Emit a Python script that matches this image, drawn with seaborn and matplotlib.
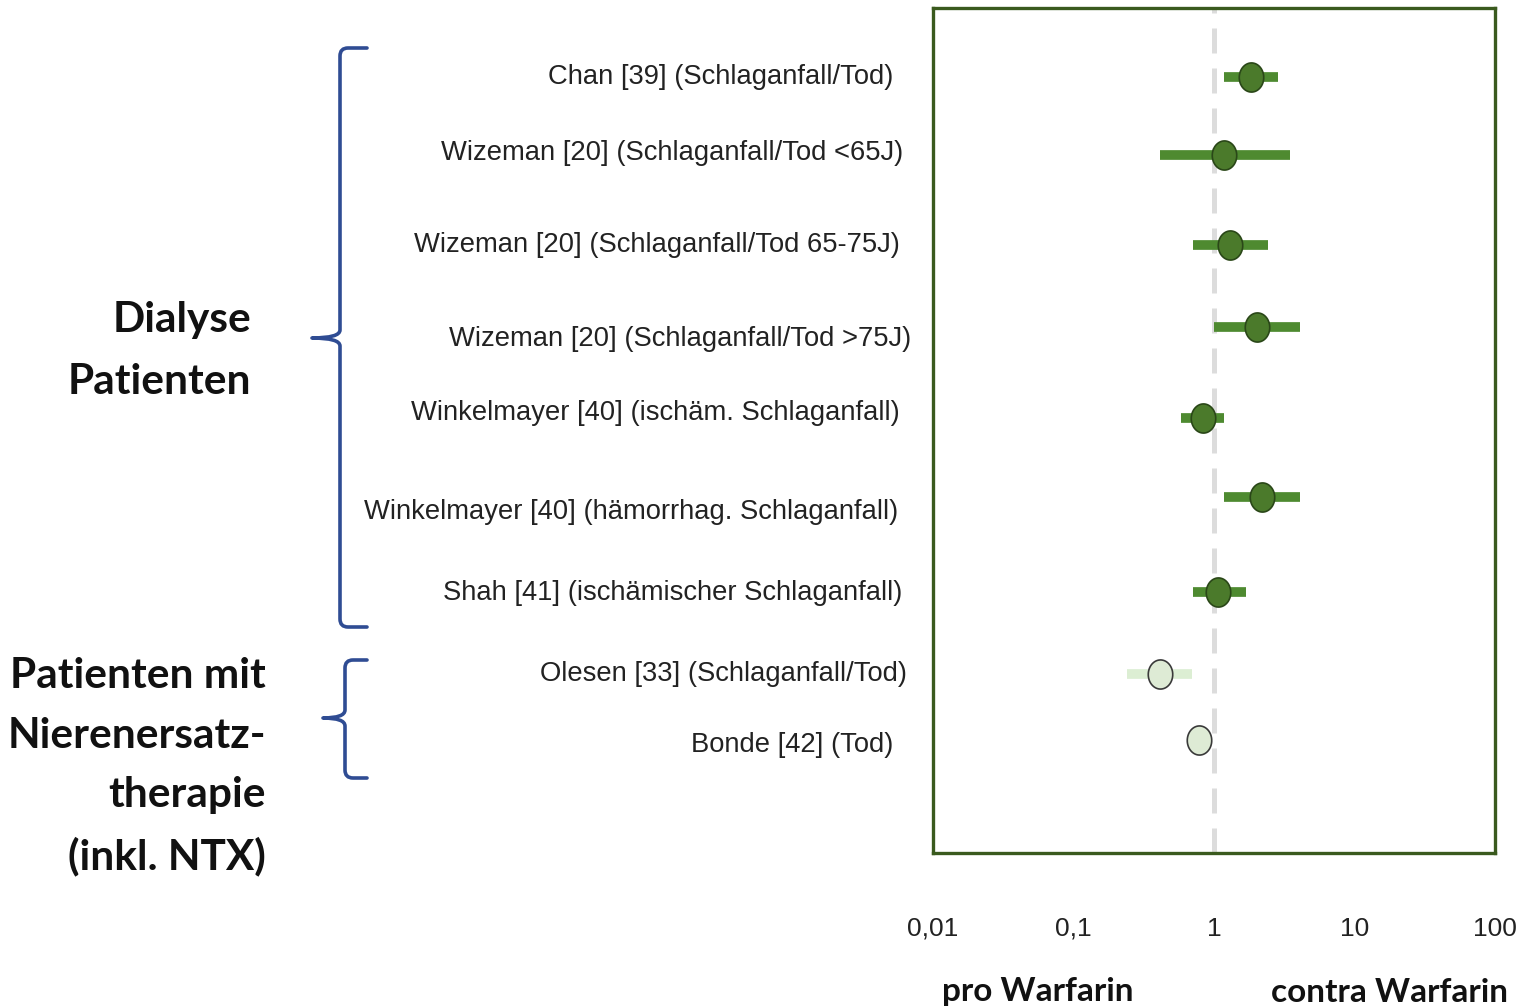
import numpy as np
import pandas as pd
import matplotlib
matplotlib.use("Agg")
import matplotlib.pyplot as plt
import matplotlib.transforms as mtransforms
from matplotlib.path import Path
from matplotlib.patches import PathPatch
from matplotlib import font_manager
import seaborn as sns

# ---------------- data ----------------
studies = [
    "Chan [39] (Schlaganfall/Tod)",
    "Wizeman [20] (Schlaganfall/Tod <65J)",
    "Wizeman [20] (Schlaganfall/Tod 65-75J)",
    "Wizeman [20] (Schlaganfall/Tod >75J)",
    "Winkelmayer [40] (ischäm. Schlaganfall)",
    "Winkelmayer [40] (hämorrhag. Schlaganfall)",
    "Shah [41] (ischämischer Schlaganfall)",
    "Olesen [33] (Schlaganfall/Tod)",
    "Bonde [42] (Tod)",
]
estimate = [1.83, 1.18, 1.30, 2.02, 0.84, 2.20, 1.07, 0.41, 0.78]
ci_low = [1.18, 0.41, 0.71, 1.00, 0.58, 1.18, 0.71, 0.24, np.nan]
ci_high = [2.86, 3.47, 2.42, 4.09, 1.18, 4.09, 1.69, 0.70, np.nan]
group = ["Dialyse"] * 7 + ["NET"] * 2
xticks = [0.01, 0.1, 1, 10, 100]
xticklabels = ["0,01", "0,1", "1", "10", "100"]

# layout (row positions, axis units 0..10 from top; label right edges in px)
row_pos = [0.82, 1.74, 2.80, 3.78, 4.85, 5.79, 6.91, 7.88, 8.66]
label_pos = [0.82, 1.72, 2.80, 3.92, 4.79, 5.96, 6.92, 7.88, 8.72]
label_right = [893, 903, 900, 911, 900, 898, 902, 907, 893]

df = pd.DataFrame({"study": studies, "est": estimate, "lo": ci_low,
                   "hi": ci_high, "group": group, "pos": row_pos})

# ---------------- style ----------------
sns.set_theme(style="white")
names = {f.name for f in font_manager.fontManager.ttflist}
narrow = "Liberation Sans Narrow" if "Liberation Sans Narrow" in names else "Liberation Sans"
boldfam = "Lato" if "Lato" in names else "DejaVu Sans"
plt.rcParams["font.family"] = [narrow, "DejaVu Sans"]

W, H = 1517, 1008
fig = plt.figure(figsize=(W / 100, H / 100), dpi=100)
ax = fig.add_axes([933 / W, 1 - 853 / H, (1495 - 933) / W, (853 - 8) / H])

dark_line = "#4E8A30"
dark_fill = "#4B7A2B"
dark_edge = "#2A4718"
light_line = "#DCEED3"
light_fill = "#DEEBD5"
light_edge = "#3A3A3A"

ax.axvline(1, color="#DCDCDC", lw=3.6, dashes=(5, 3), zorder=1)

for _, r in df.iterrows():
    if np.isnan(r.lo):
        continue
    col = dark_line if r.group == "Dialyse" else light_line
    ax.hlines(r.pos, r.lo, r.hi, color=col, lw=7, zorder=2)

t = np.linspace(0, 2 * np.pi, 60)
ell = Path(np.column_stack([0.84 * np.cos(t), np.sin(t)]))
for g, fc, ec in [("Dialyse", dark_fill, dark_edge), ("NET", light_fill, light_edge)]:
    sub = df[df.group == g]
    sns.scatterplot(data=sub, x="est", y="pos", ax=ax, marker=ell, s=440,
                    color=fc, edgecolor=ec, linewidth=1.2, zorder=3, legend=False)

ax.set_xscale("log")
ax.set_xlim(0.01, 100)
ax.set_ylim(10, 0)
ax.set_xticks(xticks)
ax.set_xticklabels(xticklabels, fontsize=19, color="#222222")
ax.minorticks_off()
ax.tick_params(axis="x", length=0, pad=46)
ax.set_yticks([])
ax.set_xlabel("")
ax.set_ylabel("")
for s in ax.spines.values():
    s.set_color("#3A5A1E")
    s.set_linewidth(2.4)

# study labels
trans = mtransforms.blended_transform_factory(fig.transFigure, ax.transData)
for name, yp, xr in zip(studies, label_pos, label_right):
    ax.text(xr / W, yp, name, transform=trans, ha="right", va="center",
            fontsize=19.7, color="#222222", clip_on=False)

# overlay for braces / group labels / bottom labels
ov = fig.add_axes([0, 0, 1, 1], zorder=-1)
ov.set_xlim(0, W)
ov.set_ylim(H, 0)
ov.axis("off")

def brace(x_arm, x_v, x_tip, y_top, y_mid, y_bot, r=8):
    verts = [(x_arm, y_top), (x_v + r, y_top), (x_v, y_top), (x_v, y_top + r),
             (x_v, y_mid - r), (x_v, y_mid), (x_tip, y_mid),
             (x_v, y_mid), (x_v, y_mid + r),
             (x_v, y_bot - r), (x_v, y_bot), (x_v + r, y_bot), (x_arm, y_bot)]
    codes = [Path.MOVETO, Path.LINETO, Path.CURVE3, Path.CURVE3,
             Path.LINETO, Path.CURVE3, Path.CURVE3,
             Path.CURVE3, Path.CURVE3,
             Path.LINETO, Path.CURVE3, Path.CURVE3, Path.LINETO]
    ov.add_patch(PathPatch(Path(verts, codes), fill=False, ec="#2F4C93",
                           lw=2.6, capstyle="round", joinstyle="round"))

brace(367, 340, 312, 48, 338, 627)
brace(367, 345, 323, 660, 718, 778)

ov.text(251, 351, "Dialyse\nPatienten", ha="right", va="center",
        fontsize=30.5, fontweight="bold", family=[boldfam, "DejaVu Sans"],
        color="#111111", linespacing=1.76)
ov.text(266, 767, "Patienten mit\nNierenersatz-\ntherapie\n(inkl. NTX)", ha="right",
        va="center", fontsize=30.5, fontweight="bold", family=[boldfam, "DejaVu Sans"],
        color="#111111", linespacing=1.69)
ov.text(1038, 992, "pro Warfarin", ha="center", va="center", fontsize=24,
        fontweight="bold", family=[boldfam, "DejaVu Sans"], color="#111111")
ov.text(1390, 992, "contra Warfarin", ha="center", va="center", fontsize=24,
        fontweight="bold", family=[boldfam, "DejaVu Sans"], color="#111111")

fig.savefig("out.png", dpi=100)
